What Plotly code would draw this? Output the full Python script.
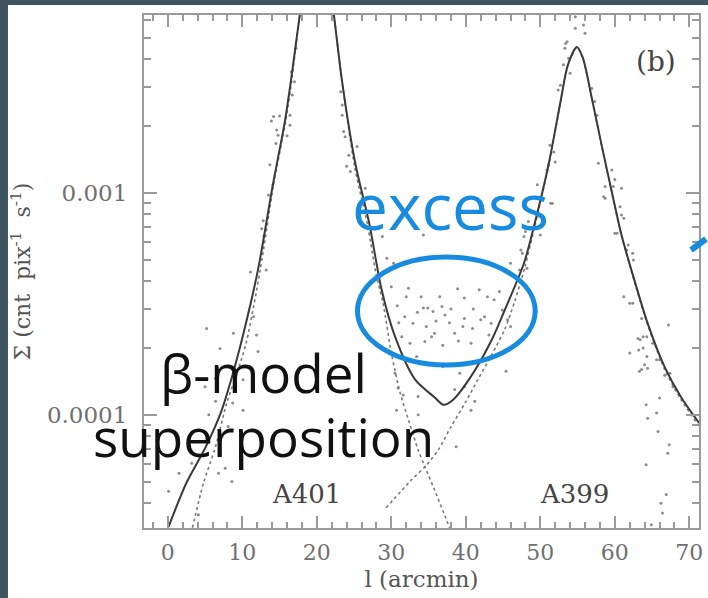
import plotly.graph_objects as go

# Surface-brightness profile along the A401-A399 axis
# Total beta-model superposition (solid)
model_x = [0.1, 2.5, 5.1, 7.1, 8.5, 10.1, 12.1, 14.1, 15.7, 16.5, 17.7, 18.8, 19.8, 20.8,
           21.5, 22.3, 23.4, 25.2, 27.0, 28.7, 30.5, 33.2, 35.8, 37.0, 38.3, 40.7, 43.4,
           45.1, 47.8, 49.3, 51.1, 52.7, 53.7, 54.9, 55.7, 56.9, 58.3, 59.6, 60.9, 62.3,
           64.4, 66.7, 68.9, 71.3]
model_y = [3.13e-5, 4.94e-5, 7.18e-5, 1.02e-4, 1.44e-4, 2.29e-4, 4.5e-4, 1.09e-3, 2.09e-3,
           3.16e-3, 6.3e-3, 1.1e-2, 1.5e-2, 1.4e-2, 1.0e-2, 6.3e-3, 3.16e-3, 1.34e-3, 7.4e-4,
           3.66e-4, 2.25e-4, 1.44e-4, 1.2e-4, 1.11e-4, 1.17e-4, 1.49e-4, 2.15e-4, 2.9e-4,
           4.82e-4, 7.41e-4, 1.34e-3, 2.57e-3, 3.78e-3, 4.55e-3, 4.07e-3, 2.69e-3, 1.6e-3,
           1.01e-3, 6.46e-4, 4.41e-4, 2.59e-4, 1.64e-4, 1.2e-4, 9.2e-5]

# Individual beta models (dotted)
a401_x = [3.3, 4.8, 6.4, 7.9, 9.1, 10.5, 12.4, 14.2, 15.8, 16.6, 17.7, 18.8, 19.8, 20.8,
          21.5, 22.3, 23.4, 25.1, 26.8, 27.9, 28.9, 30.0, 31.2, 32.3, 33.6, 34.5, 35.8,
          37.6, 38.0]
a401_y = [3.1e-5, 4.94e-5, 7.18e-5, 1.13e-4, 1.48e-4, 2.1e-4, 4.5e-4, 1.09e-3, 2.09e-3,
          3.16e-3, 6.3e-3, 1.1e-2, 1.5e-2, 1.4e-2, 1.0e-2, 6.3e-3, 3.16e-3, 1.3e-3, 7.2e-4,
          4.4e-4, 3.18e-4, 1.9e-4, 1.25e-4, 9.5e-5, 6.95e-5, 5.85e-5, 4.59e-5, 3.24e-5, 3.0e-5]

a399_x = [29.3, 32.7, 34.5, 36.3, 38.0, 39.9, 41.6, 43.3, 45.2, 46.5, 47.9, 49.3, 51.1,
          52.7, 53.7, 54.9, 55.7, 56.9, 58.3, 59.6, 60.9, 62.3, 64.4, 66.7, 68.9, 71.3]
a399_y = [3.81e-5, 5.09e-5, 5.83e-5, 6.95e-5, 8.83e-5, 1.13e-4, 1.44e-4, 1.82e-4, 2.42e-4,
          3.2e-4, 4.6e-4, 7.2e-4, 1.32e-3, 2.55e-3, 3.75e-3, 4.52e-3, 4.05e-3, 2.67e-3,
          1.59e-3, 1.0e-3, 6.4e-4, 4.35e-4, 2.55e-4, 1.6e-4, 1.17e-4, 8.9e-5]

# Measured pixel values
obs_x = [13.9, 14.2, 15.0, 16.4, 14.6, 14.8, 14.5, 16.0, 16.4, 13.7, 14.1, 13.5, 12.8, 12.6,
         12.9, 11.1, 13.2, 17.0, 16.7, 17.2, 16.6,
         5.2, 8.8, 11.5, 11.9, 12.1, 7.0, 10.1, 6.4, 5.0, 10.1, 6.4, 5.5, 8.1, 7.7, 8.6, 6.8,
         3.2, 1.5, 0.1, 4.1, 8.7,
         23.2, 23.4, 23.4, 23.6, 23.8, 25.4, 24.3, 24.0, 24.5, 26.5, 27.2, 28.3, 28.8, 34.3,
         29.4, 30.3, 46.0,
         30.0, 32.3, 32.0, 34.3, 36.5, 36.8, 35.6, 37.2, 31.8, 34.9, 39.8, 41.8, 42.9, 43.8,
         42.0, 43.4, 40.9, 32.9, 34.7, 35.4, 35.8, 36.9, 34.5, 31.4, 32.5, 38.5, 39.6, 40.7,
         43.1, 45.6, 46.0, 44.9, 47.2, 47.4, 47.8, 51.4, 49.6, 33.4, 45.4, 34.0, 39.8, 42.5,
         38.0, 37.8, 33.5, 41.0, 30.8, 44.5, 36.0, 39.0, 31.0, 38.9,
         58.5, 59.8, 60.7, 61.2, 60.3, 61.6, 62.5, 61.2, 62.0, 67.2, 64.3, 63.4, 63.2, 64.3,
         62.0, 63.6, 66.0, 67.4,
         54.7, 55.8, 56.0, 53.6, 53.3, 53.8, 53.1, 54.0, 52.7, 52.4, 56.9, 57.3, 57.6, 51.3,
         51.8, 52.0, 51.1, 50.9, 57.8, 59.6, 60.0, 60.9, 58.7, 58.7, 60.9, 60.0, 61.8, 62.4,
         51.6, 50.0, 48.4, 48.0, 47.6, 48.2, 54.7, 53.4,
         62.4, 63.6, 63.1, 63.8, 65.1, 63.8, 65.6, 64.0, 64.4, 63.3, 66.7, 67.8, 66.0, 64.2,
         65.6, 64.4, 65.8, 67.3, 67.1, 64.2, 66.9, 66.2, 66.4, 64.9,
         30.7, 33.6, 38.7, 40.7, 41.2, 39.8, 38.5, 30.5, 30.9, 31.6, 33.6, 36.9, 39.2]
obs_y = [2.11e-3, 2.21e-3, 2.22e-3, 2.24e-3, 1.92e-3, 1.82e-3, 1.67e-3, 1.81e-3, 2.02e-3,
         1.34e-3, 1.09e-3, 9.8e-4, 7.5e-4, 6.9e-4, 6.4e-4, 4.4e-4, 4.5e-4, 3.17e-3, 2.76e-3,
         4.49e-3, 3.52e-3,
         2.45e-4, 2.33e-4, 2.77e-4, 2.29e-4, 1.93e-4, 1.99e-4, 1.44e-4, 1.46e-4, 1.34e-4,
         1.05e-4, 1.15e-4, 1.0e-4, 8.86e-5, 5.75e-5, 5.01e-5, 5.46e-5, 6.05e-5, 5.46e-5,
         4.52e-5, 3.55e-5, 1.13e-4,
         2.86e-3, 2.49e-3, 2.24e-3, 1.89e-3, 1.79e-3, 1.62e-3, 1.48e-3, 1.32e-3, 1.25e-3,
         1.05e-3, 9.46e-4, 6.93e-4, 6.36e-4, 6.47e-4, 5.08e-4, 4.82e-4, 4.82e-4,
         3.78e-4, 3.72e-4, 3.41e-4, 3.03e-4, 3.41e-4, 3.08e-4, 2.92e-4, 2.82e-4, 2.77e-4,
         3.03e-4, 2.72e-4, 3.66e-4, 3.41e-4, 3.3e-4, 2.68e-4, 2.59e-4, 2.45e-4, 2.59e-4,
         2.5e-4, 2.25e-4, 2.33e-4, 2.06e-4, 2.14e-4, 2.25e-4, 2.1e-4, 2.33e-4, 2.5e-4, 2.1e-4,
         2.29e-4, 2.68e-4, 2.5e-4, 2.97e-4, 4.5e-4, 5.53e-4, 6.36e-4, 8.98e-4, 1.09e-3,
         1.83e-4, 1.57e-4, 3.41e-4, 3.36e-4, 2.77e-4,
         3.0e-4, 2.6e-4, 2.9e-4, 3.0e-4, 3.1e-4, 3.6e-4, 2.65e-4, 2.15e-4, 2.6e-4, 3.7e-4,
         9.62e-4, 1.07e-3, 8.67e-4, 7.69e-4, 6.58e-4, 5.53e-4, 4.99e-4, 3.41e-4, 3.18e-4,
         2.54e-4, 2.25e-4, 2.18e-4, 1.96e-4, 1.83e-4, 1.9e-4, 1.6e-4, 1.77e-4, 1.54e-4,
         5.52e-3, 5.71e-3, 5.24e-3, 4.8e-3, 4.49e-3, 4.05e-3, 3.78e-3, 3.46e-3, 3.06e-3,
         2.91e-3, 2.96e-3, 2.58e-3, 2.24e-3, 1.64e-3, 1.53e-3, 1.38e-3, 1.34e-3, 1.27e-3,
         1.36e-3, 1.27e-3, 1.15e-3, 1.05e-3, 1.07e-3, 9.46e-4, 7.96e-4, 6.58e-4, 5.83e-4,
         5.35e-4, 8.98e-4, 6.47e-4, 7.43e-4, 6.7e-4, 5.35e-4, 4.58e-4, 6.22e-3, 4.72e-3,
         3.18e-4, 2.72e-4, 2.21e-4, 2.25e-4, 2.1e-4, 2.0e-4, 1.77e-4, 1.68e-4, 1.62e-4,
         1.57e-4, 1.51e-4, 1.34e-4, 1.19e-4, 1.11e-4, 1.02e-4, 9.66e-5, 8.41e-5, 7.33e-5,
         6.72e-5, 5.95e-5, 4.37e-5, 4.0e-5, 3.61e-5, 3.2e-5,
         1.05e-4, 1.0e-4, 7.19e-5, 1.05e-4, 1.15e-4, 1.34e-4, 1.3e-4, 1.54e-4, 1.32e-4,
         1.23e-4, 1.21e-4, 1.65e-4, 1.54e-4]

x_ticks = [0, 10, 20, 30, 40, 50, 60, 70]
y_ticks = [1e-4, 1e-3]
y_ticktext = ["0.0001", "0.001"]
y_minor = [m * d for d in (1e-5, 1e-4, 1e-3) for m in range(2, 10)]

W, H = 708, 598
ML, MR, MT, MB = 144, 5, 15, 70
PW, PH = W - ML - MR, H - MT - MB


def px(xp):
    return (xp - ML) / PW


def py(yp):
    return (H - MB - yp) / PH


SERIF = "DejaVu Serif"
SANS = "Open Sans"
BLUE = "#168be0"
AX = "#9a9a9a"

fig = go.Figure()
fig.add_trace(go.Scatter(x=obs_x, y=obs_y, mode="markers",
                         marker=dict(size=3, color="#8c8c8c"), hoverinfo="skip"))
fig.add_trace(go.Scatter(x=a401_x, y=a401_y, mode="lines",
                         line=dict(color="#7a7a7a", width=1.6, dash="dot", shape="spline",
                                   smoothing=0.8)))
fig.add_trace(go.Scatter(x=a399_x, y=a399_y, mode="lines",
                         line=dict(color="#7a7a7a", width=1.6, dash="dot", shape="spline",
                                   smoothing=0.8)))
fig.add_trace(go.Scatter(x=model_x, y=model_y, mode="lines",
                         line=dict(color="#3a3a3a", width=2, shape="spline", smoothing=0.8)))

fig.update_xaxes(range=[-3.2, 71.3], tickvals=x_ticks, ticks="inside", ticklen=12,
                 tickcolor=AX, tickwidth=1.5, showline=True, linecolor=AX, linewidth=2,
                 mirror="allticks", showgrid=False, zeroline=False, ticklabelstandoff=4,
                 minor=dict(dtick=2, ticks="inside", ticklen=6, tickcolor=AX, tickwidth=1.5),
                 tickfont=dict(family=SERIF, size=22, color="#707070"),
                 title=dict(text="l (arcmin)", font=dict(family=SERIF, size=23, color="#555"),
                            standoff=6))
fig.update_yaxes(type="log", range=[-4.51, -2.198], tickvals=y_ticks, ticktext=y_ticktext,
                 ticks="inside", ticklen=13, tickcolor=AX, tickwidth=1.5,
                 showline=True, linecolor=AX, linewidth=2, mirror="allticks",
                 showgrid=False, zeroline=False, ticklabelstandoff=10,
                 minor=dict(tickvals=y_minor, ticks="inside", ticklen=7, tickcolor=AX,
                            tickwidth=1.5),
                 tickfont=dict(family=SERIF, size=23, color="#707070"),
                 title=dict(text="Σ (cnt  pix<sup>-1</sup>  s<sup>-1</sup>)",
                            font=dict(family=SERIF, size=22, color="#555"), standoff=10))

annotations = [
    dict(text="excess", x=px(453), y=py(205), font=dict(family=SANS, size=64, color=BLUE)),
    dict(text="β-model", x=px(264), y=py(372), font=dict(family=SANS, size=53, color="#111")),
    dict(text="superposition", x=px(264), y=py(436), font=dict(family=SANS, size=53, color="#111")),
    dict(text="A401", x=px(308), y=py(494), font=dict(family=SERIF, size=26, color="#444")),
    dict(text="A399", x=px(578), y=py(494), font=dict(family=SERIF, size=26, color="#444")),
    dict(text="(b)", x=px(660), y=py(61), font=dict(family=SERIF, size=28, color="#444")),
]
for a in annotations:
    a.update(xref="paper", yref="paper", showarrow=False, xanchor="center", yanchor="middle")

shapes = [
    # dark slide frame on the left and top edges
    dict(type="rect", xref="paper", yref="paper", x0=px(-10), x1=px(7), y0=py(610), y1=py(-10),
         fillcolor="#3e555f", line_width=0, layer="below"),
    dict(type="rect", xref="paper", yref="paper", x0=px(-10), x1=px(720), y0=py(5), y1=py(-10),
         fillcolor="#3e555f", line_width=0, layer="below"),
    # highlight around the excess emission
    dict(type="circle", xref="paper", yref="paper", x0=px(359), x1=px(538), y0=py(365),
         y1=py(257), line=dict(color=BLUE, width=5)),
    dict(type="line", xref="paper", yref="paper", x0=px(695), y0=py(250), x1=px(710),
         y1=py(239), line=dict(color=BLUE, width=6)),
]

fig.update_layout(width=W, height=H, margin=dict(l=ML, r=MR, t=MT, b=MB),
                  paper_bgcolor="white", plot_bgcolor="white", showlegend=False,
                  annotations=annotations, shapes=shapes)

fig.write_html("out.html")
